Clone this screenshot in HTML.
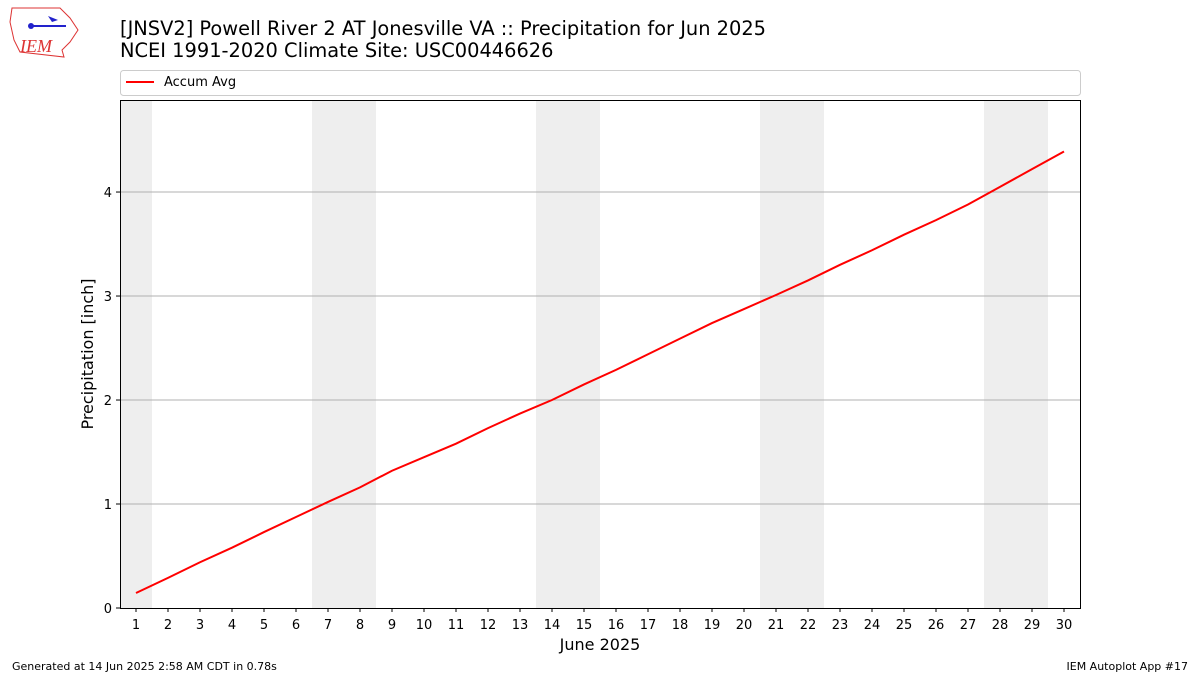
<!DOCTYPE html>
<html><head><meta charset="utf-8"><style>
body{margin:0;background:#fff;font-family:"Liberation Sans","DejaVu Sans",sans-serif;}
#wrap{position:relative;width:1200px;height:675px;overflow:hidden;}
</style></head><body>
<div id="wrap">
<svg id="chart" width="1200" height="675" xmlns="http://www.w3.org/2000/svg" font-family="DejaVu Sans, Liberation Sans, sans-serif">
<g>
<path d="M12 8 L60 8 L70 18 L78 30 L70 42 L62 50 L64 57 L20 52 L14 40 L10 22 Z" fill="#fff" stroke="#d33" stroke-width="1"/>
<line x1="30" y1="26" x2="66" y2="26" stroke="#22c" stroke-width="2"/>
<circle cx="31" cy="26" r="3" fill="#22c"/>
<path d="M48 16 L58 20 L52 22Z" fill="#22c"/>
<text x="20" y="52" font-family="Liberation Serif, serif" font-style="italic" font-size="18" fill="#d33">IEM</text>
</g>
<text x="120" y="35" font-size="19.4" fill="#000">[JNSV2] Powell River 2 AT Jonesville VA :: Precipitation for Jun 2025</text>
<text x="120" y="57" font-size="19.4" fill="#000">NCEI 1991-2020 Climate Site: USC00446626</text>
<g>
<rect x="120.5" y="70.5" width="960" height="25" rx="3" fill="#fff" stroke="#ccc"/>
<line x1="126" y1="82" x2="154" y2="82" stroke="red" stroke-width="2"/>
<text x="164" y="86" font-size="13">Accum Avg</text>
</g>
<g id="shade"></g><g id="grid"></g><g id="ticks"></g>
<path id="line" fill="none" stroke="red" stroke-width="2"/>
<rect x="120.5" y="100.5" width="960" height="508" fill="none" stroke="#000"/>
<text x="600" y="650" font-size="16" text-anchor="middle">June 2025</text>
<text transform="translate(93,354) rotate(-90)" font-size="16" text-anchor="middle">Precipitation [inch]</text>
<text x="12" y="670" font-size="11">Generated at 14 Jun 2025 2:58 AM CDT in 0.78s</text>
<text x="1188" y="670" font-size="11" text-anchor="end">IEM Autoplot App #17</text>
</svg>
</div>
<script>
const days=[1,2,3,4,5,6,7,8,9,10,11,12,13,14,15,16,17,18,19,20,21,22,23,24,25,26,27,28,29,30];
const accum=[0.144,0.29,0.44,0.58,0.73,0.875,1.02,1.16,1.32,1.45,1.58,1.73,1.87,2.0,2.15,2.29,2.44,2.59,2.74,2.875,3.01,3.15,3.30,3.44,3.59,3.73,3.88,4.05,4.22,4.39];
const weekendDays=[1,7,8,14,15,21,22,28,29];
const yTicks=[0,1,2,3,4];
const NS="http://www.w3.org/2000/svg";
const X0=120,X1=1080,Y0=608,Y1=100,xmin=0.5,xmax=30.5,ymin=0,ymax=4.885;
const xs=d=>X0+(d-xmin)/(xmax-xmin)*(X1-X0);
const ys=v=>Y0-(v-ymin)/(ymax-ymin)*(Y0-Y1);
function mk(t,a,p){const e=document.createElementNS(NS,t);for(const k in a)e.setAttribute(k,a[k]);p.appendChild(e);return e;}
const shade=document.getElementById('shade'),grid=document.getElementById('grid'),ticks=document.getElementById('ticks');
weekendDays.forEach(d=>{
 const r=mk('rect',{x:xs(d-0.5),y:Y1,width:xs(d+0.5)-xs(d-0.5),height:Y0-Y1,fill:'#eeeeee'},shade);
 
 
});
yTicks.forEach(v=>{
 const y=ys(v);
 if(v>0){const g=mk('line',{x1:X0,x2:X1,y1:y,y2:y,stroke:'#b0b0b0','stroke-width':1},grid);
 
 }
 mk('line',{x1:X0-4,x2:X0,y1:y,y2:y,stroke:'#000'},ticks);
 const t=mk('text',{x:X0-8,y:y+5,'font-size':13,'text-anchor':'end'},ticks);t.textContent=v;
 
 
});
days.forEach(d=>{
 const x=xs(d);
 mk('line',{x1:x,x2:x,y1:Y0,y2:Y0+4,stroke:'#000'},ticks);
 const t=mk('text',{x:x,y:Y0+21,'font-size':13,'text-anchor':'middle'},ticks);t.textContent=d;
 
 
});
document.getElementById('line').setAttribute('d',days.map((d,i)=>(i?'L':'M')+xs(d)+' '+ys(accum[i])).join(' '));
</script>
</body></html>
